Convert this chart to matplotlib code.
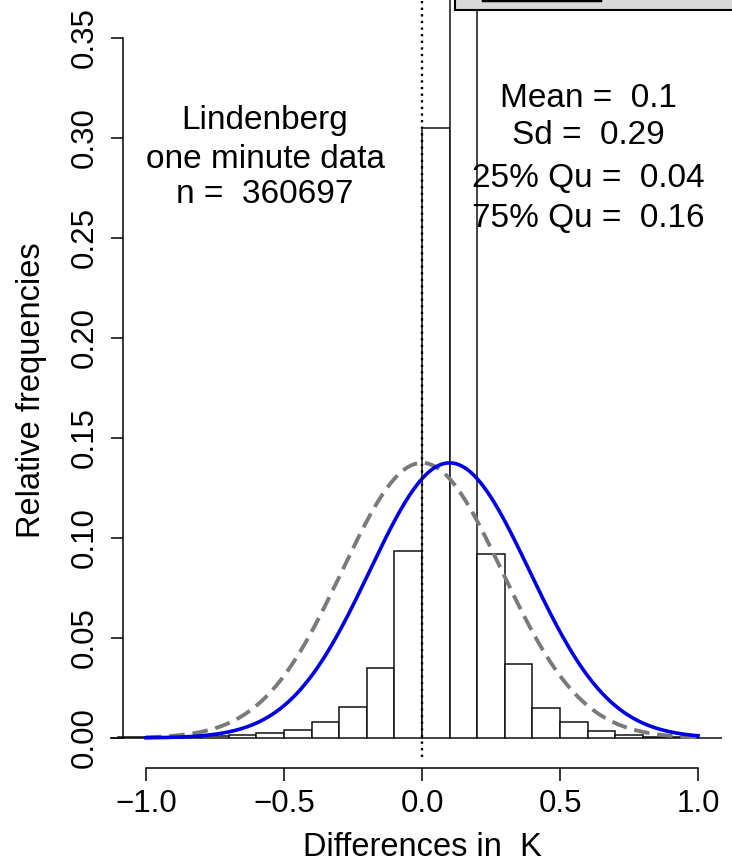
import numpy as np
import matplotlib
matplotlib.use("Agg")
import matplotlib.pyplot as plt
from matplotlib.patches import Rectangle
from matplotlib.lines import Line2D

plt.rcParams['font.family'] = ['Liberation Sans', 'DejaVu Sans']

# ----------------- data -----------------
bin_left = [-1.2, -1.1, -1.0, -0.9, -0.8, -0.7, -0.6, -0.5, -0.4, -0.3, -0.2, -0.1,
            0.0, 0.1, 0.2, 0.3, 0.4, 0.5, 0.6, 0.7, 0.8, 0.9, 1.0]
rel_freq = [0.0001, 0.0003, 0.0004, 0.0006, 0.0009, 0.0015, 0.0023, 0.0042, 0.0078, 0.0153, 0.035, 0.0935,
            0.305, 0.38, 0.092, 0.037, 0.015, 0.0078, 0.0033, 0.0015, 0.0007, 0.0004, 0.0002]
bin_width = 0.1

fit_mean, fit_sd = 0.1, 0.29      # blue curve (fitted normal)
ref_mean, ref_sd = 0.0, 0.29      # grey dashed reference
curve_range = (-1.0, 1.0)

x_ticks = [-1.0, -0.5, 0.0, 0.5, 1.0]
y_ticks = [0.00, 0.05, 0.10, 0.15, 0.20, 0.25, 0.30, 0.35]

left_text = ["Lindenberg", "one minute data", "n =  360697"]
right_text = ["Mean =  0.1", "Sd =  0.29", "25% Qu =  0.04", "75% Qu =  0.16"]


def normal_curve(x, mu, sd, width):
    return width * np.exp(-0.5 * ((x - mu) / sd) ** 2) / (sd * np.sqrt(2 * np.pi))


# ----------------- layout helpers (pixels -> figure fraction) -----------------
W, H = 732, 864


def fx(px):
    return px / W


def fy(py):
    return 1 - py / H


fig = plt.figure(figsize=(W / 100, H / 100), dpi=100)
ax = fig.add_axes([fx(110), fy(768), fx(722) - fx(110), fy(0) - fy(768)])

x0_px, px_per_x = 422, 276
y0_px, px_per_y = 738, 2000
ax.set_xlim((110 - x0_px) / px_per_x, (722 - x0_px) / px_per_x)
ax.set_ylim(-(768 - y0_px) / px_per_y, y0_px / px_per_y)

# histogram
ax.bar(bin_left, rel_freq, width=bin_width, align="edge",
       facecolor="white", edgecolor="#111111", linewidth=1.1, zorder=2)

# normal curves
xs = np.linspace(curve_range[0], curve_range[1], 400)
ax.plot(xs, normal_curve(xs, ref_mean, ref_sd, bin_width), color="#7a7a7a",
        lw=2.8, dashes=(4, 2), zorder=3)
ax.plot(xs, normal_curve(xs, fit_mean, fit_sd, bin_width), color="#0000e6",
        lw=2.6, zorder=4)

# dotted zero line
ax.plot([0, 0], [-(757 - y0_px) / px_per_y, ax.get_ylim()[1]], color="black",
        lw=1.7, linestyle=(0, (1, 1.8)), zorder=5)

# R-like detached axes
for s in ("top", "right"):
    ax.spines[s].set_visible(False)
ax.spines["left"].set_position(("data", (123 - x0_px) / px_per_x))
ax.spines["left"].set_bounds(0, 0.35)
ax.spines["bottom"].set_bounds(-1.0, 1.0)
for s in ("left", "bottom"):
    ax.spines[s].set_linewidth(1.1)

ax.set_xticks(x_ticks)
ax.set_xticklabels([f"{v:.1f}".replace("-", "\u2212") for v in x_ticks])
ax.set_yticks(y_ticks)
ax.set_yticklabels([f"{v:.2f}" for v in y_ticks], rotation=90, va="center")
ax.tick_params(axis="both", direction="out", length=9, width=1.1, labelsize=22.5)
ax.tick_params(axis="x", pad=6)
ax.tick_params(axis="y", pad=8)

fig.text(fx(422), fy(848), "Differences in  K", ha="center", va="center", fontsize=23.5)
fig.text(fx(32), fy(390), "Relative frequencies", ha="center", va="center",
         rotation=90, fontsize=23.5)

# annotation text
for txt, base in zip(left_text, [129, 168, 203]):
    fig.text(fx(265), fy(base), txt, ha="center", va="baseline", fontsize=24)
for txt, base in zip(right_text, [107, 144, 187, 227]):
    fig.text(fx(588), fy(base), txt, ha="center", va="baseline", fontsize=24)

# partially visible legend box at the top right
fig.patches.append(Rectangle((fx(455), fy(10)), fx(760) - fx(455), fy(-40) - fy(10),
                             transform=fig.transFigure, facecolor="#d9d9d9",
                             edgecolor="black", linewidth=1.5, zorder=10))
fig.lines.append(Line2D([fx(483), fx(600)], [fy(0), fy(0)], transform=fig.transFigure,
                        color="black", lw=2.5, zorder=11))

fig.savefig("out.png", dpi=100)
